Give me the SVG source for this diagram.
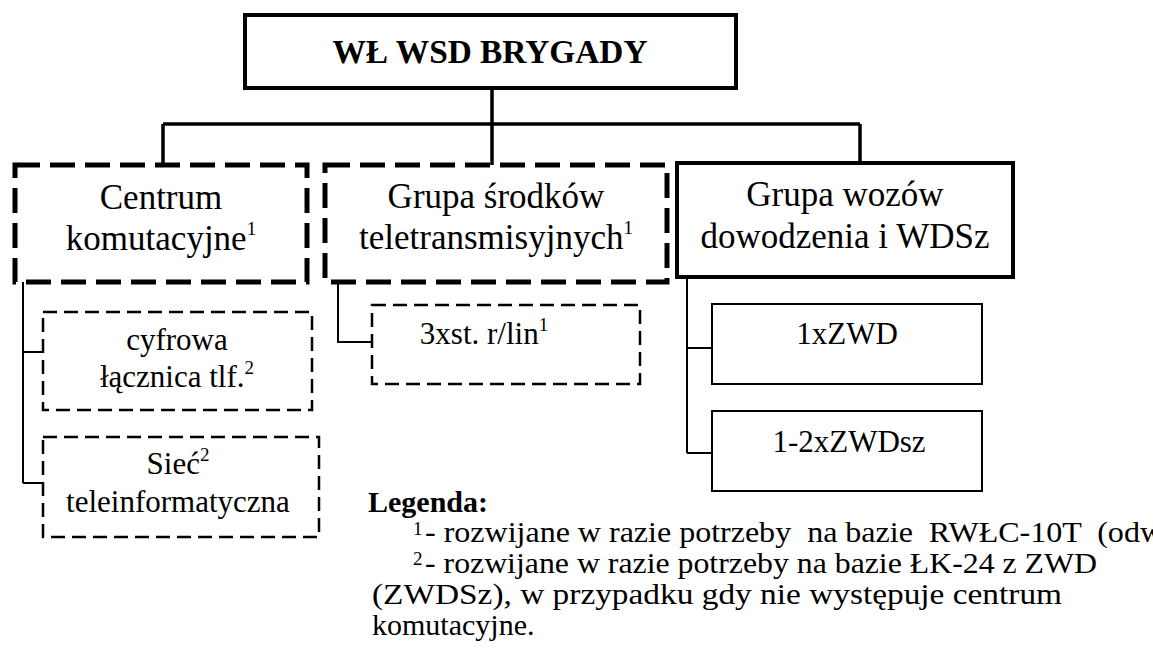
<svg xmlns="http://www.w3.org/2000/svg" width="1153" height="662" viewBox="0 0 1153 662">
<style>
text{font-family:"Liberation Serif","Times New Roman",serif;fill:#000;white-space:pre}
.bd{fill:none;stroke:#000;stroke-width:5;stroke-dasharray:25 10}
.td{fill:none;stroke:#000;stroke-width:2.5;stroke-dasharray:14 7}
.bs{fill:none;stroke:#000;stroke-width:4}
.ts{fill:none;stroke:#000;stroke-width:2}
.ck{fill:none;stroke:#000;stroke-width:3.5}
.cn{fill:none;stroke:#000;stroke-width:2}
.t1{font-size:35px;text-anchor:middle}
.t2{font-size:31px;text-anchor:middle}
.lg{font-size:30px}
.sup{font-size:19px}
</style>
<rect width="1153" height="662" fill="#fff"/>
<g id="connectors">
<path class="ck" d="M492,88 V165 M163,124 H860 M163,124 V165 M860,124 V163"/>
<path class="cn" d="M23,282 V483 M23,352 H43 M23,483 H43 M338,282 V342 H372 M687,277 V453 M687,348 H712 M687,453 H712"/>
</g>
<g id="root">
<rect class="bs" x="245" y="15" width="491" height="73"/>
<text x="490" y="63" font-size="33" font-weight="bold" text-anchor="middle" textLength="315" lengthAdjust="spacingAndGlyphs">WŁ WSD BRYGADY</text>
</g>
<g id="centrum">
<rect class="bd" x="15" y="165" width="292" height="117"/>
<text class="t1" x="161" y="209">Centrum</text>
<text class="t1" x="161" y="250">komutacyjne<tspan class="sup" dy="-15">1</tspan></text>
</g>
<g id="grupa-srodkow">
<rect class="bd" x="325" y="165" width="342" height="117"/>
<text class="t1" x="496" y="208">Grupa środków</text>
<text class="t1" x="496" y="249">teletransmisyjnych<tspan class="sup" dy="-15">1</tspan></text>
</g>
<g id="grupa-wozow">
<rect class="bs" x="677" y="163" width="336" height="114"/>
<text class="t1" x="845" y="206">Grupa wozów</text>
<text class="t1" x="845" y="248">dowodzenia i WDSz</text>
</g>
<g id="lacznica">
<rect class="td" x="43" y="312" width="269" height="98"/>
<text class="t2" x="177" y="350">cyfrowa</text>
<text class="t2" x="177" y="387">łącznica tlf.<tspan class="sup" dy="-13">2</tspan></text>
</g>
<g id="siec">
<rect class="td" x="43" y="437" width="276" height="100"/>
<text class="t2" x="178" y="474">Sieć<tspan class="sup" dy="-13">2</tspan></text>
<text class="t2" x="178" y="512">teleinformatyczna</text>
</g>
<g id="stacje">
<rect class="td" x="372" y="305" width="268" height="79"/>
<text class="t2" x="484" y="344">3xst. r/lin<tspan class="sup" dy="-13">1</tspan></text>
</g>
<g id="zwd">
<rect class="ts" x="712" y="304" width="270" height="80"/>
<text class="t2" x="847" y="344">1xZWD</text>
</g>
<g id="zwdsz">
<rect class="ts" x="712" y="411" width="270" height="80"/>
<text class="t2" x="849" y="452">1-2xZWDsz</text>
</g>
<g id="legend">
<text x="368" y="512" font-size="30" font-weight="bold">Legenda:</text>
<text class="sup" x="413" y="535">1</text>
<text class="lg" x="425" y="542" textLength="738" lengthAdjust="spacingAndGlyphs">- rozwijane w razie potrzeby  na bazie  RWŁC-10T  (odw</text>
<text class="sup" x="413" y="565">2</text>
<text class="lg" x="425" y="573" textLength="672" lengthAdjust="spacingAndGlyphs">- rozwijane w razie potrzeby na bazie ŁK-24 z ZWD</text>
<text class="lg" x="372" y="604" textLength="690" lengthAdjust="spacingAndGlyphs">(ZWDSz), w przypadku gdy nie występuje centrum</text>
<text class="lg" x="372" y="635">komutacyjne.</text>
</g>
</svg>
